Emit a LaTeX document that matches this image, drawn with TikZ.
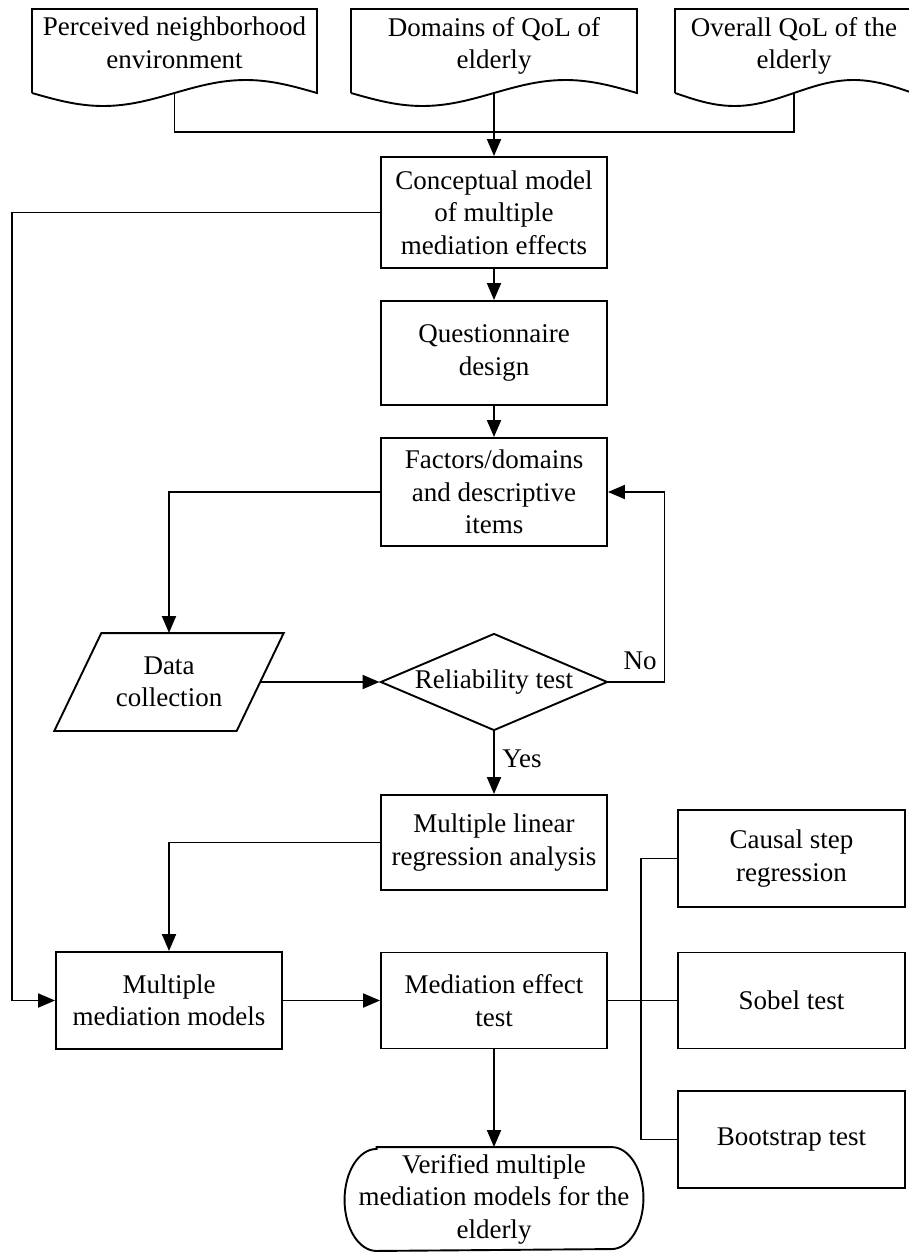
\documentclass[tikz,border=0pt]{standalone}
\usepackage{fontspec}
\setmainfont{Liberation Serif}
\usetikzlibrary{arrows.meta,shapes.geometric}

% document symbol: rectangle with a wavy lower edge
% #1 name, #2 centre x, #3 full width; the wave crosses its base line at (#1-base)
\newcommand{\docsheet}[3]{%
  \draw ({#2-#3/2},93) -- ++(0,-84) -- ++(#3,0) -- ++(0,84)
    sin ++({-#3/4},-13) cos ++({-#3/4},13) coordinate (#1-base)
    sin ++({-#3/4},13) cos ++({-#3/4},-13);}

\begin{document}
\begin{tikzpicture}[x=1pt,y=-1pt,
  line width=1.9pt,
  txt/.style={font=\fontsize{27}{32.5}\selectfont, align=center, inner sep=0pt},
  procbox/.style={txt, draw, rectangle, minimum width=226pt, minimum height=#1},
  procbox/.default=97pt,
  arr/.style={-{Triangle[length=17pt,width=14pt]}}]

\useasboundingbox (0,0) rectangle (909,1252);

% inputs
\node[txt] (d1) at (174.5,43) {Perceived neighborhood\\environment};
\node[txt] (d2) at (494,46) {Domains of QoL of\\elderly};
\node[txt] (d3) at (794,46) {Overall QoL of the\\elderly};
\docsheet{d1}{174.5}{285}
\docsheet{d2}{494}{286}
\docsheet{d3}{794}{238}

% main column
\node[procbox=111pt] (concept) at (494,212.5) {Conceptual model\\of multiple\\mediation effects};
\node[procbox=104pt] (quest) at (494,353) {Questionnaire\\design};
\node[procbox=108pt] (factors) at (494,492) {Factors/domains\\and descriptive\\items};
\node[txt, diamond, draw, aspect=2.34, minimum width=227pt, minimum height=97pt] (rel) at (494,682) {Reliability test};
\node[procbox=95pt] (mlr) at (494,842.5) {Multiple linear\\regression analysis};
\node[procbox=96pt] (met) at (494,1000.5) {Mediation effect\\test};

% data collection (parallelogram)
\node[txt, minimum width=180.5pt, minimum height=96pt] (data) at (169,682) {Data\\collection};
\draw ([shift={(23.5,0)}]data.north west) -- ([shift={(23.5,0)}]data.north east)
  -- ([shift={(-23.5,0)}]data.south east) -- ([shift={(-23.5,0)}]data.south west) -- cycle;

\node[procbox] (mmm) at (169,1000.5) {Multiple\\mediation models};

% test methods
\node[procbox=97pt, minimum width=227pt] (causal) at (791.5,858.5) {Causal step\\regression};
\node[procbox=96pt, minimum width=227pt] (sobel) at (791.5,1000.5) {Sobel test};
\node[procbox=97pt, minimum width=227pt] (boot) at (791.5,1139.5) {Bootstrap test};

% result (terminator)
\node[txt, minimum width=297pt, minimum height=102pt] (term) at (494,1199)
  {Verified multiple\\mediation models for the\\elderly};
\draw ([xshift=32pt]term.north west) -- ([xshift=-32pt]term.north east)
  arc[start angle=90, end angle=-90, x radius=32pt, y radius=51pt]
  -- ([xshift=32pt]term.south west)
  arc[start angle=270, end angle=90, x radius=32pt, y radius=51pt] -- cycle;

% branch labels
\node[txt] (no) at (640,661) {No};
\node[txt] (yes) at (522,759) {Yes};

% connectors
\coordinate (bus) at (494,132);
\coordinate (rail) at (12,212.5);
\coordinate (hub) at (641,1000.5);

\draw (d1-base) |- (bus) -| (d3-base);
\draw[arr] (d2-base) -- (concept);
\draw[arr] (concept) -- (quest);
\draw[arr] (quest) -- (factors);
\draw[arr] (factors.west) -| (data.north);
\draw[arr] (data.east) -- (rel.west);
\draw[arr] (rel.east) -- ++(56,0) |- (factors.east);
\draw[arr] (rel.south) -- (mlr.north);
\draw[arr] (mlr.west) -| (mmm.north);
\draw[arr] (concept.west) -- (rail) |- (mmm.west);
\draw[arr] (mmm) -- (met);
\draw[arr] (met) -- (term.north);
\draw (met.east) -- (hub);
\draw (causal.west) -| (hub) |- (boot.west);
\draw (hub) -- (sobel.west);

\end{tikzpicture}
\end{document}
